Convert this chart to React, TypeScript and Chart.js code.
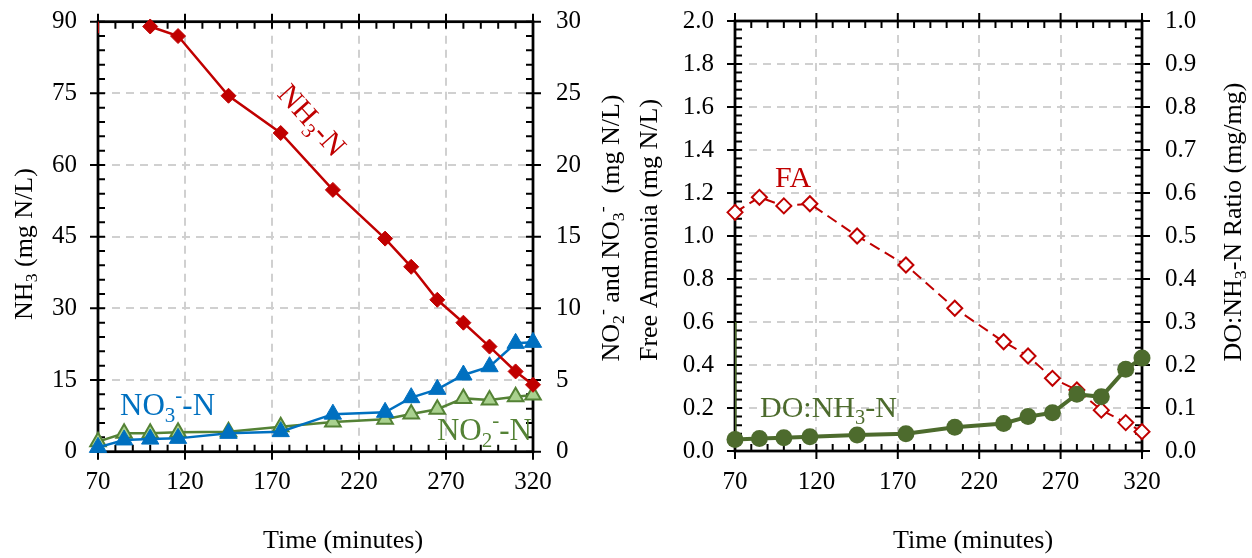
import React, { useEffect, useRef } from 'react';
import { Chart, registerables } from 'chart.js';

Chart.register(...registerables);

// ---------------- data ----------------
const times = [70, 85, 100, 116, 145, 175, 205, 235, 250, 265, 280, 295, 310, 320];
const nh3Times = [100, 116, 145, 175, 205, 235, 250, 265, 280, 295, 310, 320];
const nh3 = [89, 87, 74.5, 66.7, 54.8, 44.6, 38.7, 31.8, 27.0, 22.0, 16.8, 14.0];
const nh3Stub = [96, 87.6]; // vertical trace at t = 70
const no3 = [0.3, 0.82, 0.88, 0.93, 1.28, 1.4, 2.62, 2.75, 3.77, 4.35, 5.35, 5.93, 7.56, 7.63];
const no2 = [0.7, 1.28, 1.28, 1.35, 1.4, 1.74, 2.07, 2.26, 2.63, 2.96, 3.72, 3.6, 3.84, 3.95];
const fa = [1.11, 1.18, 1.14, 1.15, 1.0, 0.865, 0.664, 0.508, 0.442, 0.338, 0.284, 0.19, 0.132, 0.09];
const doRatio = [0.027, 0.029, 0.031, 0.033, 0.037, 0.04, 0.055, 0.064, 0.08, 0.089, 0.132, 0.126, 0.19, 0.216];
const doStub = [0.027, 0.3]; // vertical trace at t = 70

const xTicks = [70, 120, 170, 220, 270, 320];
const nh3Ticks = [0, 15, 30, 45, 60, 75, 90];
const noxTicks = [0, 5, 10, 15, 20, 25, 30];
const faTicks = [0, 0.2, 0.4, 0.6, 0.8, 1.0, 1.2, 1.4, 1.6, 1.8, 2.0];
const ratioTicks = [0, 0.1, 0.2, 0.3, 0.4, 0.5, 0.6, 0.7, 0.8, 0.9, 1.0];

// ---------------- styling ----------------
const FONT = '"Liberation Serif", "Times New Roman", serif';
const RED = '#c00000';
const BLUE = '#0070c0';
const GREEN = '#548235';
const LIGHTGREEN = '#a9d18e';
const DKGREEN = '#4d6b2d';
const GRID = '#d0d0d0';

type Seg = [string, 'n' | 'b' | 'p'];

function drawRich(ctx: CanvasRenderingContext2D, segs: Seg[], x: number, y: number, size: number,
  color: string, align: 'left' | 'center' | 'right', angle = 0) {
  ctx.save();
  ctx.translate(x, y);
  ctx.rotate(angle);
  ctx.fillStyle = color;
  ctx.textBaseline = 'alphabetic';
  ctx.textAlign = 'left';
  const small = size * 0.68;
  let total = 0;
  const widths = segs.map(([t, k]) => {
    ctx.font = `${k === 'n' ? size : small}px ${FONT}`;
    const w = ctx.measureText(t).width;
    total += w;
    return w;
  });
  let cx = align === 'left' ? 0 : align === 'center' ? -total / 2 : -total;
  const base = size * 0.33;
  segs.forEach(([t, k], i) => {
    ctx.font = `${k === 'n' ? size : small}px ${FONT}`;
    const dy = k === 'b' ? size * 0.22 : k === 'p' ? -size * 0.42 : 0;
    ctx.fillText(t, cx, base + dy);
    cx += widths[i];
  });
  ctx.restore();
}

type TextItem = { segs: Seg[]; x: number; y: number; size: number; color: string; align: 'left' | 'center' | 'right'; angle?: number };

function framePlugin(cfg: { xMinor: number; yMinor: number; y2Minor: number; texts: TextItem[] }) {
  return {
    id: 'frameTicks',
    beforeDatasetsDraw(chart: any) {
      const { ctx, chartArea: a } = chart;
      const xs = chart.scales.x, yl = chart.scales.y, yr = chart.scales.y2;
      const MAJ = 8, MIN = 7;
      const near = (v: number, arr: number[]) => arr.some((t) => Math.abs(t - v) < 1e-6);
      ctx.save();
      ctx.strokeStyle = '#000';
      ctx.lineWidth = 2;
      ctx.beginPath();
      const xMaj = xs.ticks.map((t: any) => t.value);
      for (let i = 0; xs.min + i * cfg.xMinor <= xs.max + 1e-9; i++) {
        const v = xs.min + i * cfg.xMinor;
        const p = xs.getPixelForValue(v);
        if (near(v, xMaj)) {
          ctx.moveTo(p, a.bottom - MIN); ctx.lineTo(p, a.bottom + MAJ);
          ctx.moveTo(p, a.top - MAJ); ctx.lineTo(p, a.top + MIN);
        } else {
          ctx.moveTo(p, a.bottom - MIN); ctx.lineTo(p, a.bottom);
          ctx.moveTo(p, a.top); ctx.lineTo(p, a.top + MIN);
        }
      }
      const yMaj = yl.ticks.map((t: any) => t.value);
      for (let i = 0; yl.min + i * cfg.yMinor <= yl.max + 1e-9; i++) {
        const v = yl.min + i * cfg.yMinor;
        const p = yl.getPixelForValue(v);
        if (near(v, yMaj)) { ctx.moveTo(a.left - MAJ, p); ctx.lineTo(a.left + MIN, p); }
        else { ctx.moveTo(a.left, p); ctx.lineTo(a.left + MIN, p); }
      }
      const y2Maj = yr.ticks.map((t: any) => t.value);
      for (let i = 0; yr.min + i * cfg.y2Minor <= yr.max + 1e-9; i++) {
        const v = yr.min + i * cfg.y2Minor;
        const p = yr.getPixelForValue(v);
        if (near(v, y2Maj)) { ctx.moveTo(a.right + MAJ, p); ctx.lineTo(a.right - MIN, p); }
        else { ctx.moveTo(a.right, p); ctx.lineTo(a.right - MIN, p); }
      }
      ctx.stroke();
      ctx.lineWidth = 2.75;
      ctx.strokeRect(a.left, a.top, a.right - a.left, a.bottom - a.top);
      ctx.restore();
    },
    afterDraw(chart: any) {
      const ctx = chart.ctx;
      cfg.texts.forEach((t) => drawRich(ctx, t.segs, t.x, t.y, t.size, t.color, t.align, t.angle || 0));
    },
  };
}

const tickFont = { family: FONT, size: 25 };

function zeroPad(s: any) {
  s.paddingTop = 0;
  s.paddingBottom = 0;
  s.paddingLeft = 0;
  s.paddingRight = 0;
}

function xScale(height: number) {
  return {
    type: 'linear',
    min: 70,
    max: 320,
    afterBuildTicks: (s: any) => { s.ticks = xTicks.map((v) => ({ value: v })); },
    afterFit: (s: any) => { s.height = height; zeroPad(s); },
    ticks: { font: tickFont, color: '#000', padding: 16, maxRotation: 0, autoSkip: false },
    grid: {
      drawTicks: false,
      lineWidth: 2,
      color: (c: any) => (c.tick && (c.tick.value === 70 || c.tick.value === 320) ? 'rgba(0,0,0,0)' : GRID),
    },
    border: { display: false, dash: [8, 6] },
  };
}

function yScale(pos: 'left' | 'right', min: number, max: number, ticks: number[], width: number, pad: number, grid: boolean, fmt?: (v: number) => string) {
  return {
    type: 'linear',
    position: pos,
    min,
    max,
    afterBuildTicks: (s: any) => { s.ticks = ticks.map((v) => ({ value: v })); },
    afterFit: (s: any) => { s.width = width; zeroPad(s); },
    ticks: { font: tickFont, color: '#000', padding: pad, callback: (v: any) => (fmt ? fmt(Number(v)) : String(v)) },
    grid: grid
      ? { drawTicks: false, lineWidth: 2, color: (c: any) => (c.tick && (c.tick.value === min || c.tick.value === max) ? 'rgba(0,0,0,0)' : GRID) }
      : { display: false, drawTicks: false },
    border: { display: false, dash: [8, 6] },
  };
}

const pts = (xs: number[], ys: number[]) => xs.map((x, i) => ({ x, y: ys[i] }));

function leftConfig(): any {
  const texts: TextItem[] = [
    { segs: [['NH', 'n'], ['3', 'b'], [' (mg N/L)', 'n']], x: 23, y: 244, size: 26, color: '#000', align: 'center', angle: -Math.PI / 2 },
    { segs: [['NO', 'n'], ['2', 'b'], ['-', 'p'], [' and NO', 'n'], ['3', 'b'], ['-', 'p'], ['  (mg N/L)', 'n']], x: 610, y: 228, size: 26, color: '#000', align: 'center', angle: -Math.PI / 2 },
    { segs: [['Time (minutes)', 'n']], x: 343, y: 539, size: 26, color: '#000', align: 'center' },
    { segs: [['NH', 'n'], ['3', 'b'], ['-N', 'n']], x: 312, y: 120, size: 30, color: RED, align: 'center', angle: (48 * Math.PI) / 180 },
    { segs: [['NO', 'n'], ['3', 'b'], ['-', 'p'], ['-N', 'n']], x: 120, y: 405, size: 31, color: BLUE, align: 'left' },
    { segs: [['NO', 'n'], ['2', 'b'], ['-', 'p'], ['-N', 'n']], x: 532, y: 430, size: 31, color: GREEN, align: 'right' },
  ];
  return {
    type: 'line',
    data: {
      datasets: [
        {
          label: 'NH3-N', yAxisID: 'y', data: pts(nh3Times, nh3), borderColor: RED, backgroundColor: RED,
          borderWidth: 2.5, pointStyle: 'rectRot', pointRadius: 7.5, pointBorderWidth: 1, clip: false,
        },
        {
          label: 'stub', yAxisID: 'y', data: pts([70, 70], nh3Stub), borderColor: RED, borderWidth: 2, pointRadius: 0, clip: 0,
        },
        {
          label: 'NO3-N', yAxisID: 'y2', data: pts(times, no3), borderColor: BLUE, backgroundColor: BLUE,
          borderWidth: 2.5, pointStyle: 'triangle', pointRadius: 10, pointBorderWidth: 1, clip: false,
        },
        {
          label: 'NO2-N', yAxisID: 'y2', data: pts(times, no2), borderColor: GREEN, backgroundColor: LIGHTGREEN,
          borderWidth: 2.5, pointStyle: 'triangle', pointRadius: 9, pointBorderWidth: 2, clip: false,
        },
      ],
    },
    options: {
      responsive: false,
      animation: false,
      devicePixelRatio: 1,
      layout: { padding: { top: 21.7, left: 0, right: 0, bottom: 0 } },
      plugins: { legend: { display: false }, tooltip: { enabled: false } },
      elements: { line: { tension: 0 } },
      scales: {
        x: xScale(558 - 451.7),
        y: yScale('left', 0, 90, nh3Ticks, 98, 21, true),
        y2: yScale('right', 0, 30, noxTicks, 626 - 533, 23, false),
      },
    },
    plugins: [framePlugin({ xMinor: 10, yMinor: 3, y2Minor: 1, texts })],
  };
}

function rightConfig(): any {
  const texts: TextItem[] = [
    { segs: [['Free Ammonia (mg N/L)', 'n']], x: 22, y: 230, size: 26, color: '#000', align: 'center', angle: -Math.PI / 2 },
    { segs: [['DO:NH', 'n'], ['3', 'b'], ['-N Ratio (mg/mg)', 'n']], x: 606, y: 222, size: 26, color: '#000', align: 'center', angle: -Math.PI / 2 },
    { segs: [['Time (minutes)', 'n']], x: 347, y: 539, size: 26, color: '#000', align: 'center' },
    { segs: [['FA', 'n']], x: 149, y: 177, size: 30, color: RED, align: 'left' },
    { segs: [['DO:NH', 'n'], ['3', 'b'], ['-N', 'n']], x: 134, y: 407, size: 30, color: DKGREEN, align: 'left' },
  ];
  return {
    type: 'line',
    data: {
      datasets: [
        {
          label: 'DO:NH3-N', yAxisID: 'y2', data: pts(times, doRatio), borderColor: DKGREEN, backgroundColor: DKGREEN,
          borderWidth: 4, pointStyle: 'circle', pointRadius: 8.5, pointBorderWidth: 0, clip: false,
        },
        {
          label: 'stub', yAxisID: 'y2', data: pts([70, 70], doStub), borderColor: DKGREEN, borderWidth: 3, pointRadius: 0, clip: 0,
        },
        {
          label: 'FA', yAxisID: 'y', data: pts(times, fa), borderColor: RED, backgroundColor: '#fff',
          borderWidth: 2, borderDash: [11, 6], pointStyle: 'rectRot', pointRadius: 7.5, pointBorderWidth: 2, clip: false,
        },
      ],
    },
    options: {
      responsive: false,
      animation: false,
      devicePixelRatio: 1,
      layout: { padding: { top: 21, left: 0, right: 0, bottom: 0 } },
      plugins: { legend: { display: false }, tooltip: { enabled: false } },
      elements: { line: { tension: 0 } },
      scales: {
        x: xScale(558 - 451),
        y: yScale('left', 0, 2, faTicks, 109, 21, true, (v) => v.toFixed(1)),
        y2: yScale('right', 0, 1, ratioTicks, 110, 23, false, (v) => v.toFixed(1)),
      },
    },
    plugins: [framePlugin({ xMinor: 10, yMinor: 0.04, y2Minor: 0.02, texts })],
  };
}

function ChartCanvas({ make }: { make: () => any }) {
  const ref = useRef<HTMLCanvasElement | null>(null);
  useEffect(() => {
    if (!ref.current) return;
    const chart = new Chart(ref.current, make());
    return () => chart.destroy();
  }, [make]);
  return <canvas ref={ref} width={626} height={558} style={{ display: 'block', width: 626, height: 558 }} />;
}

export default function App() {
  return (
    <div style={{ position: 'absolute', left: 0, top: 0, width: 1252, height: 558, display: 'flex', background: '#fff' }}>
      <ChartCanvas make={leftConfig} />
      <ChartCanvas make={rightConfig} />
    </div>
  );
}
